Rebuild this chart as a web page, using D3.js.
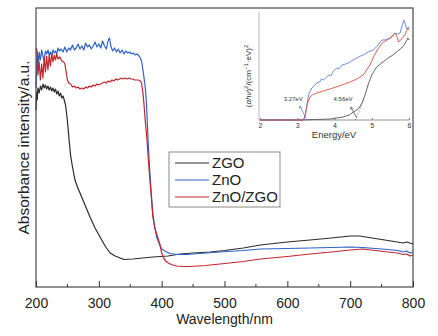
<!DOCTYPE html>
<html>
<head>
<meta charset="utf-8">
<script src="https://cdn.jsdelivr.net/npm/d3@7"></script>
<style>
  body { margin: 0; background: #fff; }
  svg { display: block; font-family: "Liberation Sans", Arial, sans-serif; }
</style>
</head>
<body>
<div id="uvvis"></div>
<script>
// ---- main spectra (wavelength nm / absorbance a.u.) ----
var zgoWave = [200,201,202,203,205,207,209,211,213,215,217,219,221,223,225,227,229,231,233,235,237,239,241,243,245,247,249,251,253,255,257,259,262,266,270,278,286,294,302,310,318,326,334,340,354,370,386,410,429,450,477,500,530,557,600,636,670,700,715,730,750,775,785,790,800];
var zgoAbs  = [1.77,1.95,1.87,1.99,1.94,2.01,1.97,2.03,1.99,2.02,1.98,2.01,1.97,2.00,1.96,1.99,1.95,1.98,1.93,1.96,1.91,1.94,1.89,1.91,1.87,1.82,1.72,1.59,1.45,1.32,1.24,1.17,1.07,1.00,0.94,0.82,0.70,0.59,0.50,0.41,0.34,0.31,0.29,0.275,0.28,0.29,0.30,0.31,0.33,0.34,0.35,0.365,0.39,0.42,0.45,0.47,0.49,0.51,0.51,0.495,0.475,0.45,0.44,0.45,0.43];

var znoWave = [200,201,202,203,204,205,207,209,211,213,215,217,219,221,223,225,227,229,231,233,235,237,240,243,246,249,252,255,258,261,264,267,270,273,276,279,282,285,288,291,294,297,300,303,306,309,312,315,317,319,322,325,328,331,334,337,340,343,346,349,352,355,358,361,364,366,368,370,372,374,376,378,380,382,384,386,389,392,395,400,405,413,425,440,460,493,530,557,600,636,670,700,720,740,760,775,785,790,795,800];
var znoAbs  = [1.99,2.17,2.35,2.29,2.22,2.35,2.27,2.37,2.31,2.26,2.36,2.33,2.37,2.32,2.35,2.31,2.37,2.34,2.36,2.33,2.39,2.36,2.38,2.35,2.40,2.35,2.39,2.37,2.42,2.37,2.39,2.43,2.38,2.41,2.37,2.44,2.40,2.42,2.38,2.41,2.45,2.40,2.43,2.39,2.46,2.41,2.38,2.47,2.49,2.41,2.36,2.39,2.35,2.38,2.34,2.37,2.33,2.36,2.34,2.35,2.33,2.34,2.32,2.33,2.31,2.29,2.26,2.18,2.09,1.99,1.82,1.52,1.27,1.07,0.89,0.74,0.60,0.50,0.45,0.38,0.36,0.335,0.325,0.325,0.335,0.35,0.365,0.38,0.385,0.39,0.395,0.40,0.395,0.385,0.375,0.365,0.35,0.36,0.34,0.35];

var compWave = [200,201.5,203,205,207,209,211,213,215,217,219,221,223,225,227,229,231,233,235,238,241,244,246,248,250,252,255,258,261,264,267,270,273,276,279,282,285,288,291,294,297,300,303,306,309,312,315,318,321,324,327,330,333,336,339,342,345,348,351,354,357,360,363,366,368,370,372,374,376,378,380,383,386,389,393,397,400,404,408,415,424,435,445,470,493,530,557,600,636,670,700,720,740,760,775,785,790,795,800];
var compAbs  = [2.39,2.37,2.12,2.25,2.07,2.23,2.09,2.30,2.15,2.31,2.17,2.32,2.21,2.34,2.25,2.32,2.27,2.33,2.28,2.30,2.26,2.25,2.23,2.15,2.07,2.04,2.03,2.00,2.01,1.99,2.00,1.98,1.99,1.98,2.00,1.99,2.01,2.00,2.02,2.01,2.03,2.02,2.03,2.04,2.05,2.04,2.06,2.05,2.07,2.06,2.08,2.07,2.08,2.09,2.08,2.09,2.08,2.09,2.08,2.08,2.07,2.07,2.07,2.06,2.04,1.95,1.82,1.65,1.52,1.35,1.17,0.94,0.70,0.59,0.51,0.43,0.34,0.28,0.25,0.225,0.21,0.205,0.205,0.215,0.23,0.255,0.28,0.305,0.33,0.35,0.37,0.38,0.365,0.35,0.34,0.325,0.33,0.31,0.32];

// ---- inset Tauc plot (energy eV / (ahv)^2) ----
var tZgoE = [2.0,3.0,3.5,3.88,4.05,4.23,4.4,4.5,4.6,4.68,4.75,4.82,4.9,4.95,5.0,5.13,5.3,5.44,5.57,5.7,5.8,5.89,5.97,6.0];
var tZgoV = [0,0,0.005,0.01,0.02,0.03,0.05,0.08,0.10,0.13,0.18,0.25,0.35,0.40,0.45,0.53,0.58,0.62,0.65,0.69,0.72,0.76,0.82,0.80];
var tZnoE = [2.0,3.18,3.22,3.25,3.29,3.32,3.39,3.45,3.52,3.6,3.65,3.7,3.79,3.85,3.9,3.97,4.06,4.12,4.2,4.3,4.42,4.5,4.6,4.7,4.77,4.9,5.04,5.15,5.27,5.35,5.49,5.55,5.62,5.7,5.76,5.82,5.86,5.9,5.94,6.0];
var tZnoV = [0,0,0.06,0.13,0.22,0.27,0.32,0.34,0.37,0.38,0.41,0.40,0.43,0.45,0.44,0.49,0.52,0.51,0.55,0.56,0.58,0.60,0.62,0.64,0.65,0.68,0.70,0.74,0.80,0.80,0.82,0.84,0.87,0.86,0.87,0.95,1.00,0.96,0.91,0.93];
var tCompE = [2.0,3.15,3.2,3.25,3.28,3.34,3.4,3.52,3.7,3.96,4.2,4.42,4.6,4.77,4.9,4.95,5.05,5.13,5.22,5.31,5.42,5.54,5.62,5.67,5.72,5.78,5.84,5.9,5.97,6.0];
var tCompV = [0,0,0.03,0.12,0.17,0.23,0.25,0.27,0.29,0.32,0.35,0.38,0.41,0.45,0.52,0.55,0.63,0.69,0.74,0.78,0.80,0.83,0.87,0.84,0.78,0.80,0.83,0.86,0.92,0.90];

var seriesNames = ["ZGO", "ZnO", "ZnO/ZGO"];
var xTicks = [200, 300, 400, 500, 600, 700, 800];
var insetTicks = [2, 3, 4, 5, 6];
var gapLabels = ["3.27eV", "4.56eV"];
// label anchor (E, value) and arrow ends, in inset data units
var gapLabelPos = [[2.89, 0.19], [4.23, 0.19]];
var gapArrows = [[[3.07, 0.14], [3.23, 0.02]], [[4.44, 0.13], [4.60, 0.02]]];
var tangent = [[4.56, 0], [4.80, 0.22]];

var margin = {top: 8, right: 25, bottom: 49, left: 36},
    width = 438 - margin.left - margin.right,
    height = 336 - margin.top - margin.bottom;

var mainColors = ["#2b2b2b", "#2f62c6", "#c1272d"],
    insetColors = ["#555555", "#5a80e0", "#de5040"];

function zip(a, b) {
    return a.map(function(v, i) { return [v, b[i]]; });
}

var svg = d3.select("#uvvis").append("svg")
    .attr("width", 438)
    .attr("height", 336);

var g = svg.append("g")
    .attr("transform", "translate(" + margin.left + "," + margin.top + ")");

var x = d3.scaleLinear().domain([200, 800]).range([0, width]),
    y = d3.scaleLinear().domain([0, 2.79]).range([height, 0]);

var line = d3.line()
    .x(function(d) { return x(d[0]); })
    .y(function(d) { return y(d[1]); });

var mainData = [zip(zgoWave, zgoAbs), zip(znoWave, znoAbs), zip(compWave, compAbs)];

// curves (red last so it sits on top like the original)
[0, 1, 2].forEach(function(i) {
    g.append("path")
        .datum(mainData[i])
        .attr("fill", "none")
        .attr("stroke", mainColors[i])
        .attr("stroke-width", 1.2)
        .attr("stroke-linejoin", "round")
        .attr("d", line);
});

// frame
g.append("rect")
    .attr("width", width)
    .attr("height", height)
    .attr("fill", "none")
    .attr("stroke", "#4a4a4a")
    .attr("stroke-width", 1.2);

// bottom axis, ticks pointing inward
var minor = d3.range(250, 800, 100);
g.selectAll(".minor").data(minor).enter().append("line")
    .attr("x1", function(d) { return x(d); })
    .attr("x2", function(d) { return x(d); })
    .attr("y1", height)
    .attr("y2", height - 3)
    .attr("stroke", "#333");

var xAxis = d3.axisBottom(x).tickValues(xTicks).tickSizeInner(-6).tickSizeOuter(0).tickPadding(11);
var ax = g.append("g")
    .attr("transform", "translate(0," + height + ")")
    .call(xAxis);
ax.select(".domain").remove();
ax.selectAll(".tick line").attr("stroke", "#333");
ax.selectAll("text")
    .attr("font-size", 14)
    .attr("fill", "#222")
    .attr("font-family", "Liberation Sans, Arial, sans-serif");

g.append("text")
    .attr("x", width / 2)
    .attr("y", height + 37)
    .attr("text-anchor", "middle")
    .attr("font-size", 14)
    .attr("fill", "#222")
    .text("Wavelength/nm");

svg.append("text")
    .attr("transform", "rotate(-90)")
    .attr("x", -(margin.top + height / 2))
    .attr("y", 29)
    .attr("text-anchor", "middle")
    .attr("font-size", 15.5)
    .attr("fill", "#222")
    .text("Absorbance intensity/a.u.");

// legend
var legend = svg.append("g").attr("transform", "translate(169,152)");
legend.append("rect")
    .attr("width", 111)
    .attr("height", 55)
    .attr("fill", "#fff")
    .attr("stroke", "#8a8a8a")
    .attr("stroke-width", 1);
seriesNames.forEach(function(name, i) {
    var ly = 11 + i * 17;
    legend.append("line")
        .attr("x1", 6).attr("x2", 40)
        .attr("y1", ly).attr("y2", ly)
        .attr("stroke", mainColors[i])
        .attr("stroke-width", 1.2);
    legend.append("text")
        .attr("x", 43)
        .attr("y", ly)
        .attr("dy", "0.36em")
        .attr("font-size", 15)
        .attr("fill", "#222")
        .text(name);
});

// ---- inset ----
var ix = d3.scaleLinear().domain([2, 6]).range([260, 409]),
    iy = d3.scaleLinear().domain([0, 1.08]).range([120, 12]);

var iline = d3.line()
    .x(function(d) { return ix(d[0]); })
    .y(function(d) { return iy(d[1]); });

var inset = svg.append("g");

inset.append("line")
    .attr("x1", 259).attr("x2", 259).attr("y1", 12).attr("y2", 120)
    .attr("stroke", "#aaa").attr("stroke-width", 0.8);
inset.append("line")
    .attr("x1", 259).attr("x2", 409).attr("y1", 120).attr("y2", 120)
    .attr("stroke", "#777").attr("stroke-width", 0.8);

var insetData = [zip(tZgoE, tZgoV), zip(tZnoE, tZnoV), zip(tCompE, tCompV)];
[0, 1, 2].forEach(function(i) {
    inset.append("path")
        .datum(insetData[i])
        .attr("fill", "none")
        .attr("stroke", insetColors[i])
        .attr("stroke-width", 0.9)
        .attr("d", iline);
});

var iax = inset.append("g")
    .attr("transform", "translate(0,120)")
    .call(d3.axisBottom(ix).tickValues(insetTicks).tickFormat(d3.format("d"))
        .tickSizeInner(-2).tickSizeOuter(0).tickPadding(3));
iax.select(".domain").remove();
iax.selectAll(".tick line").attr("stroke", "#777");
iax.selectAll("text")
    .attr("font-size", 7)
    .attr("fill", "#333")
    .attr("font-family", "Liberation Sans, Arial, sans-serif");

inset.append("text")
    .attr("x", 334)
    .attr("y", 138)
    .attr("text-anchor", "middle")
    .attr("font-size", 9.5)
    .attr("fill", "#333")
    .text("Energy/eV");

var ylab = inset.append("text")
    .attr("transform", "rotate(-90)")
    .attr("x", -76)
    .attr("y", 251)
    .attr("text-anchor", "middle")
    .attr("font-size", 8)
    .attr("fill", "#333");
ylab.append("tspan").text("(");
ylab.append("tspan").attr("font-style", "italic").text("αhν");
ylab.append("tspan").text(")");
ylab.append("tspan").attr("dy", -3).attr("font-size", 6).text("2");
ylab.append("tspan").attr("dy", 3).text("/(cm");
ylab.append("tspan").attr("dy", -3).attr("font-size", 6).text("−1");
ylab.append("tspan").attr("dy", 3).text("·eV)");
ylab.append("tspan").attr("dy", -3).attr("font-size", 6).text("2");

// band gap annotations
var defs = svg.append("defs");
[0, 1].forEach(function(i) {
    defs.append("marker")
        .attr("id", "ah" + i)
        .attr("viewBox", "0 0 6 6")
        .attr("refX", 5).attr("refY", 3)
        .attr("markerWidth", 4).attr("markerHeight", 4)
        .attr("orient", "auto")
        .append("path")
        .attr("d", "M0,0L6,3L0,6")
        .attr("fill", "none")
        .attr("stroke", insetColors[i === 0 ? 1 : 0]);
});

gapLabels.forEach(function(t, i) {
    var c = insetColors[i === 0 ? 1 : 0];
    inset.append("text")
        .attr("x", ix(gapLabelPos[i][0]))
        .attr("y", iy(gapLabelPos[i][1]))
        .attr("text-anchor", "middle")
        .attr("font-size", 6)
        .attr("fill", "#333")
        .text(t);
    inset.append("line")
        .attr("x1", ix(gapArrows[i][1][0])).attr("y1", iy(gapArrows[i][1][1]))
        .attr("x2", ix(gapArrows[i][0][0])).attr("y2", iy(gapArrows[i][0][1]))
        .attr("stroke", c)
        .attr("stroke-width", 0.8)
        .attr("marker-end", "url(#ah" + i + ")");
});

inset.append("path")
    .datum(tangent)
    .attr("fill", "none")
    .attr("stroke", "#666")
    .attr("stroke-width", 0.7)
    .attr("stroke-dasharray", "1.5,1.5")
    .attr("d", iline);
</script>
</body>
</html>
